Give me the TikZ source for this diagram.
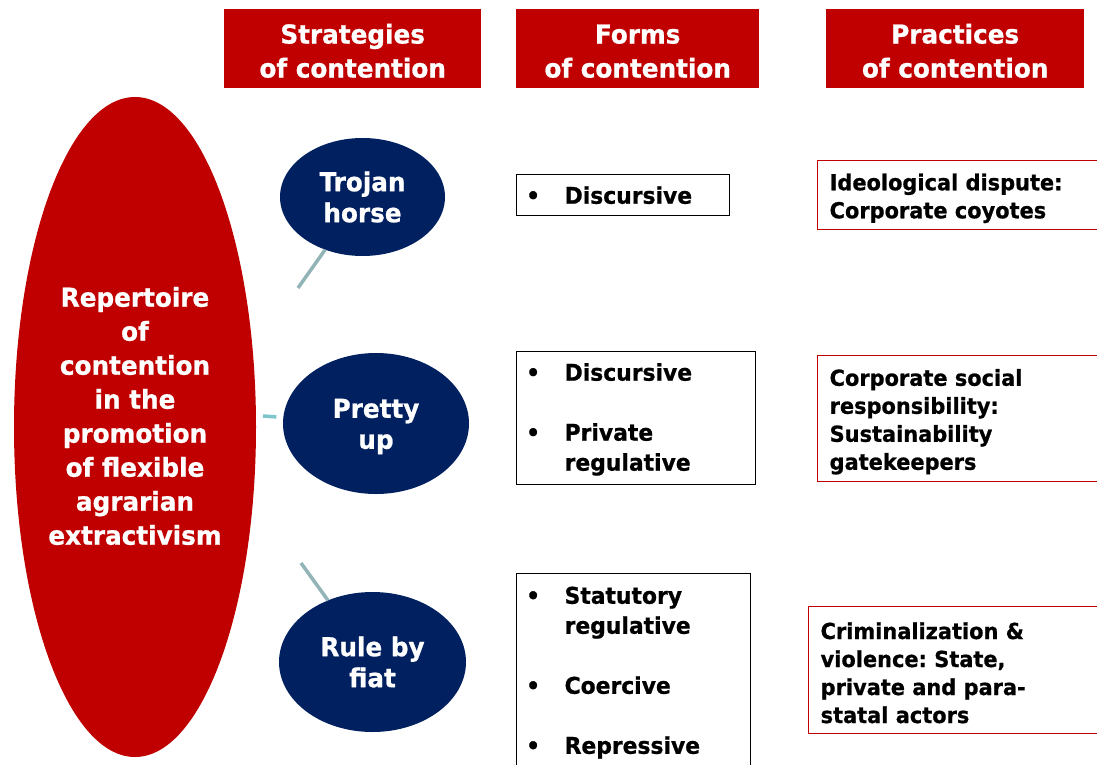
\documentclass[tikz,border=0pt]{standalone}
\usepackage{fontspec}
\setmainfont{DejaVu Sans}[FakeStretch=0.95, BoldFeatures={FakeBold=0.8}]
\usetikzlibrary{shapes.geometric}
\definecolor{hred}{HTML}{C00000}
\definecolor{navy}{HTML}{002060}
\definecolor{conn}{HTML}{93B4B6}
\definecolor{tealdash}{HTML}{7CC6CC}
\newcommand{\topstrut}[1]{\rule{0pt}{#1}}
\frenchspacing
\begin{document}
\begin{tikzpicture}[x=1pt,y=-1pt,
 hdr/.style={fill=hred, text=white, font=\bfseries\fontsize{26pt}{34pt}\selectfont, align=center, minimum height=79pt, inner sep=0pt, anchor=north west},
 strat/.style={ellipse, fill=navy, text=white, font=\bfseries\fontsize{26pt}{31pt}\selectfont, align=center, inner sep=0pt, outer sep=0pt},
 formbox/.style={draw=black, line width=1.3pt, anchor=north west, inner xsep=9.5pt, inner ysep=0pt, align=left, font=\bfseries\fontsize{23pt}{30pt}\selectfont},
 pracbox/.style={draw=hred, line width=1.3pt, anchor=north west, inner xsep=12pt, inner ysep=0pt, align=left, text width=270pt, font=\bfseries\frenchspacing\fontsize{22pt}{28pt}\selectfont},
 link/.style={draw=conn, line width=3.5pt},
 shortlink/.style={draw=tealdash, line width=3.5pt}
]
\useasboundingbox (0,0) rectangle (1097,765);
\clip (0,0) rectangle (1097,765);

% headers
\node[hdr, minimum width=257pt] (h1) at (224,9) {\topstrut{24pt}Strategies\\of contention};
\node[hdr, minimum width=243pt] (h2) at (516,9) {\topstrut{24pt}Forms\\of contention};
\node[hdr, minimum width=258pt] (h3) at (826,9) {\topstrut{24pt}Practices\\of contention};

% big ellipse
\node[ellipse, fill=hred, minimum width=242pt, minimum height=660pt, inner sep=0pt, outer sep=0pt] (rep) at (135,427) {};
\node[text=white, font=\bfseries\fontsize{26pt}{34pt}\selectfont, align=center] (reptext) at (135,416)
 {Repertoire\\of\\contention\\in the\\promotion\\of flexible\\agrarian\\extractivism};

% strategies
\node[strat, minimum width=165pt, minimum height=118pt] (trojan) at (362.5,197) {Trojan\\horse};
\node[strat, minimum width=186pt, minimum height=141pt] (pretty) at (376,423.5) {\topstrut{25pt}Pretty\\up};
\node[strat, minimum width=187pt, minimum height=140pt] (rule) at (372.5,662) {Rule by\\fiat};

% connectors
\coordinate (c1) at (298,288);
\coordinate (c2) at (263,416);
\coordinate (c3) at (301,563);
\draw[link] (c1) -- (trojan);
\draw[shortlink, shorten >=7pt] (c2) -- (pretty);
\draw[link] (c3) -- (rule);

% forms
\node[formbox, text width=194pt, minimum height=41pt] (f1) at (516,174)
 {\makebox[38.5pt][l]{•}Discursive};
\node[formbox, text width=220pt, minimum height=133pt] (f2) at (516,351)
 {\topstrut{20pt}\makebox[38.5pt][l]{•}Discursive\\[30pt]\makebox[38.5pt][l]{•}Private\\\hspace*{38.5pt}regulative};
\node[formbox, text width=215pt, minimum height=195pt] (f3) at (516,573)
 {\topstrut{20pt}\makebox[38.5pt][l]{•}Statutory\\\hspace*{38.5pt}regulative\\[30pt]\makebox[38.5pt][l]{•}Coercive\\[30pt]\makebox[38.5pt][l]{•}Repressive};

% practices
\node[pracbox, minimum height=69pt] (p1) at (817,160) {\topstrut{23pt}Ideological dispute:\\Corporate coyotes};
\node[pracbox, minimum height=126pt] (p2) at (817,355) {\topstrut{23pt}Corporate social\\responsibility:\\Sustainability\\gatekeepers};
\node[pracbox, minimum height=127pt] (p3) at (808,606) {\topstrut{22pt}Criminalization \&\\violence: State,\\private and para-\\statal actors};
\end{tikzpicture}
\end{document}
